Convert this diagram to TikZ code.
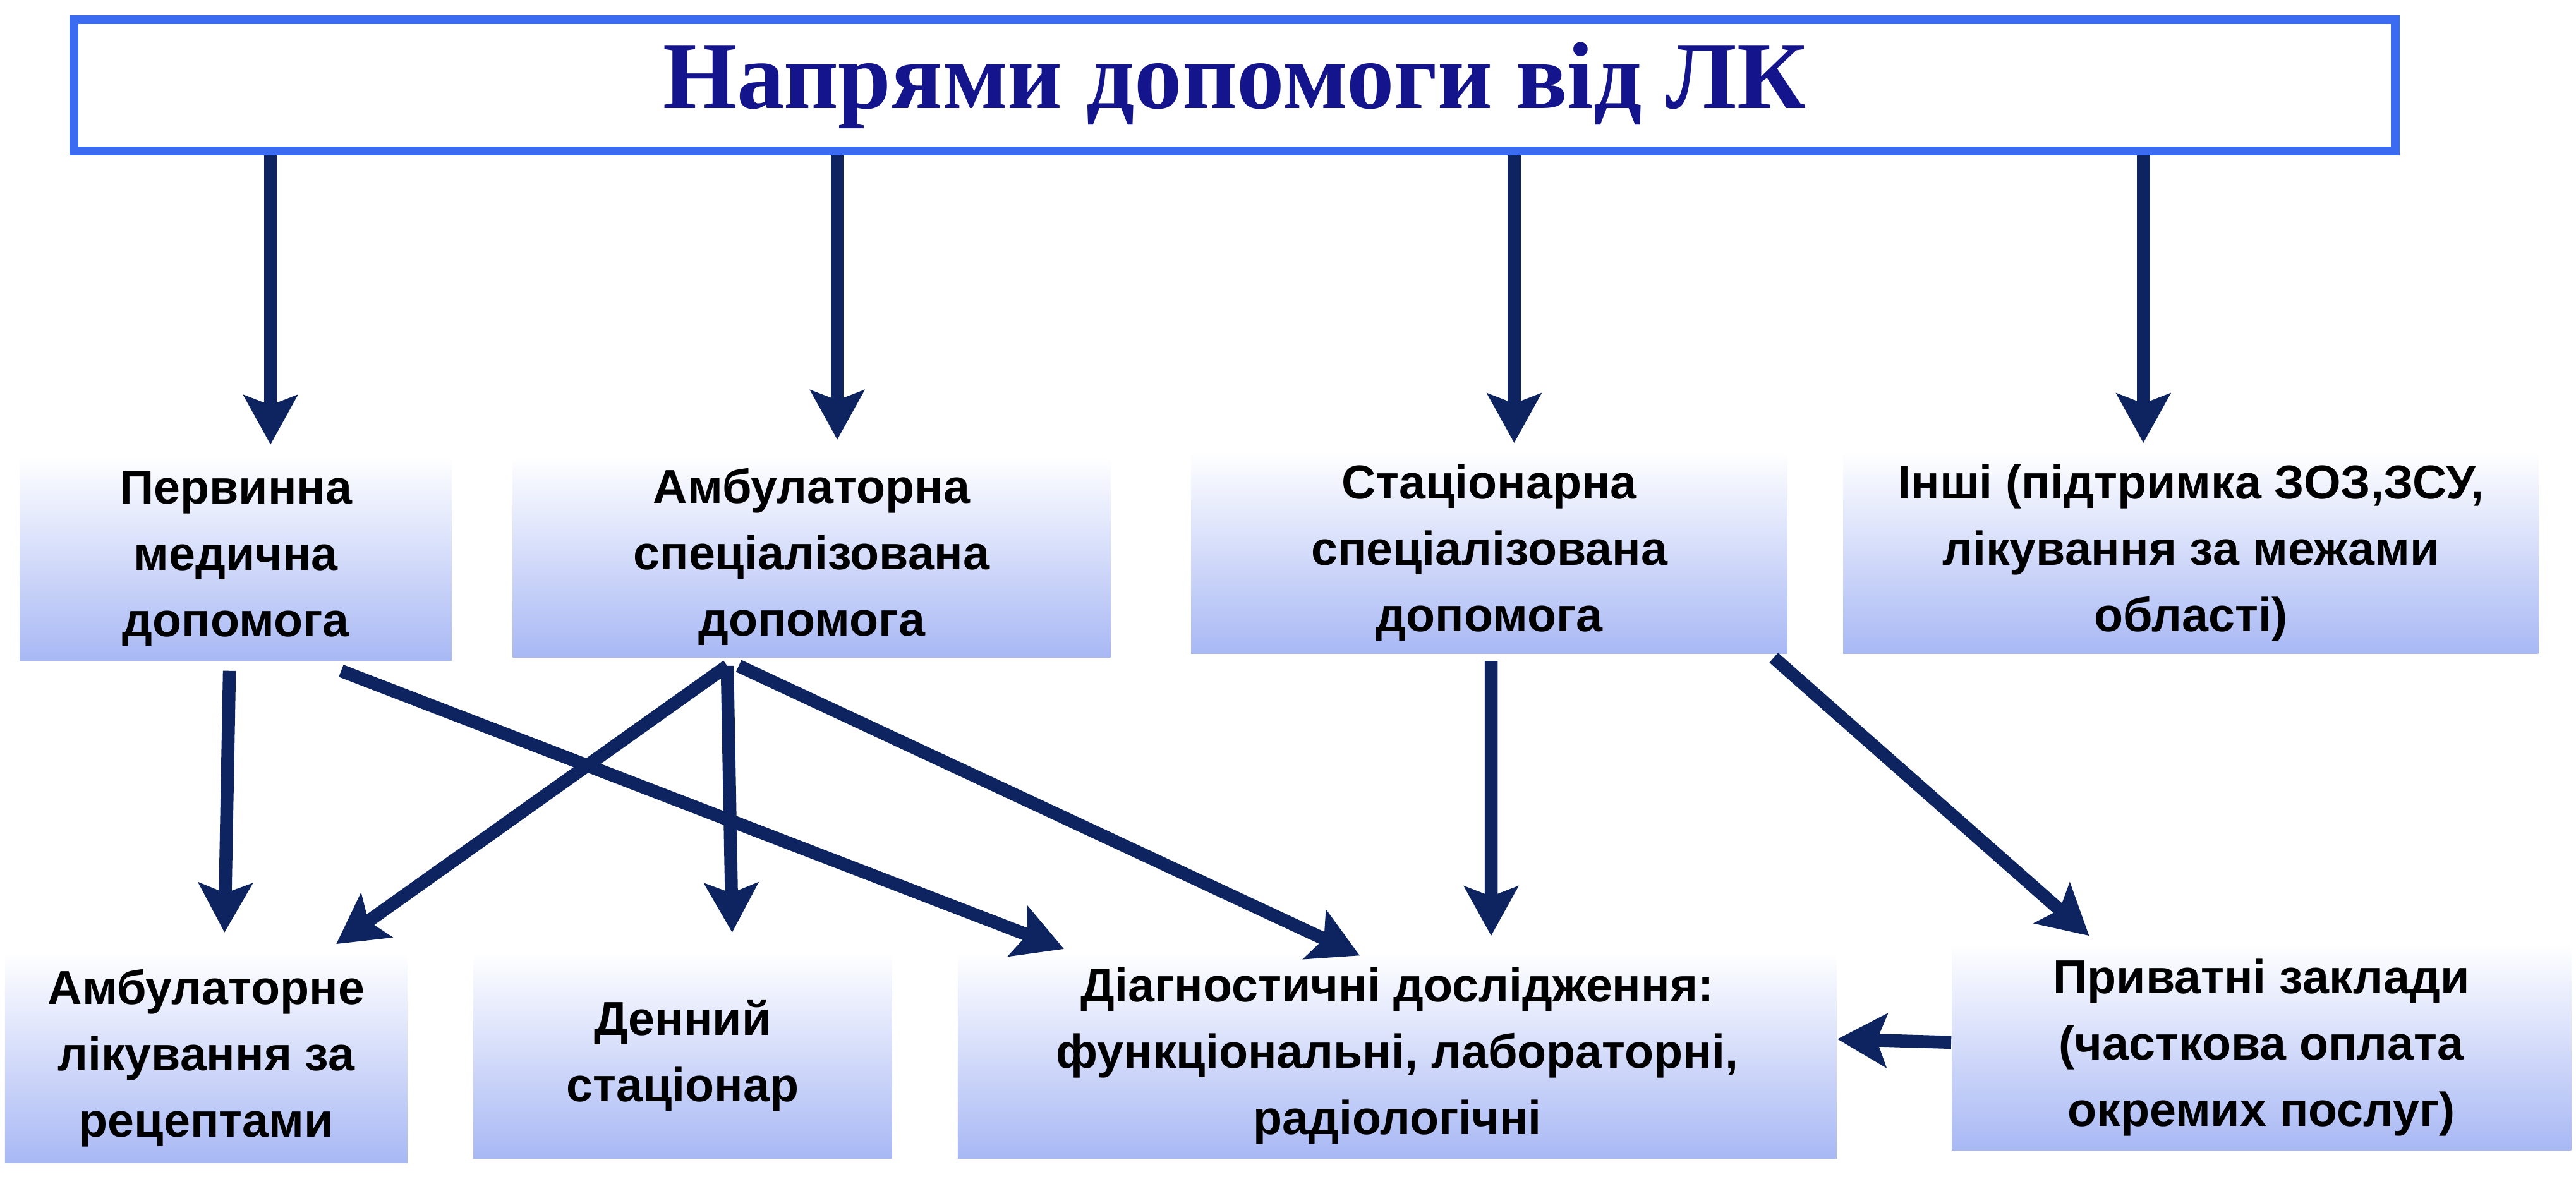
\documentclass[tikz,border=0pt]{standalone}
\usepackage{fontspec}
\setmainfont{Liberation Sans}
\newfontfamily\titlefont{Liberation Serif}
\usetikzlibrary{arrows.meta}
\definecolor{navy}{HTML}{0D2461}
\definecolor{tblue}{HTML}{14148C}
\definecolor{bord}{HTML}{3A6BF0}
\definecolor{gbot}{HTML}{A8B8F4}
\tikzset{
 box/.style={inner sep=0pt,top color=white,bottom color=gbot,align=center,
   font=\fontsize{16.5}{23}\selectfont\bfseries,text=black},
 arr/.style={draw=navy,line width=4.5pt,-{Stealth[length=0.6cm,width=0.65cm,inset=0.12cm]}}
}
\newcommand{\bx}[6]{\node[box,minimum width=#4cm-#2cm,minimum height=#3cm-#5cm] (#1) at ({(#2+#4)/2},{(#3+#5)/2}) {#6};}
\begin{document}
\begin{tikzpicture}
\useasboundingbox (0,0) rectangle (31.36,-14.41);
\node[draw=bord,line width=3pt,fill=white,minimum width=28.26cm,minimum height=1.6cm,inner sep=0pt,
  font=\titlefont\fontsize{33}{36}\selectfont\bfseries,text=tblue] (t) at (15.03,-1.04) {Напрями допомоги від ЛК};
\bx{p}{0.24}{-5.56}{5.5}{-8.04}{Первинна\\медична\\допомога}
\bx{a}{6.24}{-5.56}{13.52}{-8.0}{Амбулаторна\\спеціалізована\\допомога}
\bx{s}{14.5}{-5.5}{21.76}{-7.96}{Стаціонарна\\спеціалізована\\допомога}
\bx{i}{22.44}{-5.5}{30.9}{-7.96}{Інші (підтримка ЗОЗ,ЗСУ,\\лікування за межами\\області)}
\bx{al}{0.06}{-11.6}{4.96}{-14.16}{Амбулаторне\\лікування за\\рецептами}
\bx{d}{5.76}{-11.6}{10.86}{-14.1}{Денний\\стаціонар}
\bx{dg}{11.66}{-11.6}{22.36}{-14.1}{Діагностичні дослідження:\\функціональні, лабораторні,\\радіологічні}
\bx{pr}{23.76}{-11.5}{31.3}{-14.0}{Приватні заклади\\(часткова оплата\\окремих послуг)}
\coordinate (cp) at ([xshift=3.06cm,yshift=0.14cm]p.north west);
\coordinate (ca) at ([xshift=3.96cm,yshift=0.2cm]a.north west);
\coordinate (cs) at ([xshift=3.94cm,yshift=0.1cm]s.north west);
\coordinate (ci) at ([xshift=3.66cm,yshift=0.1cm]i.north west);
\draw[arr] (t.south -| cp) -- (cp);
\draw[arr] (t.south -| ca) -- (ca);
\draw[arr] (t.south -| cs) -- (cs);
\draw[arr] (t.south -| ci) -- (ci);
\draw[arr] ([xshift=2.56cm,yshift=-0.12cm]p.south west) -- ([xshift=2.68cm,yshift=0.24cm]al.north west);
\draw[arr] ([xshift=3.92cm,yshift=-0.12cm]p.south west) -- ([xshift=1.3cm,yshift=0.04cm]dg.north west);
\draw[arr] ([xshift=2.62cm,yshift=-0.1cm]a.south west) -- ([xshift=4.04cm,yshift=0.1cm]al.north west);
\draw[arr] ([xshift=2.62cm,yshift=-0.1cm]a.south west) -- ([xshift=3.16cm,yshift=0.24cm]d.north west);
\draw[arr] ([xshift=2.76cm,yshift=-0.1cm]a.south west) -- ([xshift=4.9cm,yshift=-0.04cm]dg.north west);
\draw[arr] ([xshift=3.66cm,yshift=-0.08cm]s.south west) -- ([xshift=6.5cm,yshift=0.2cm]dg.north west);
\draw[arr] ([xshift=7.1cm,yshift=-0.04cm]s.south west) -- ([xshift=1.68cm,yshift=0.1cm]pr.north west);
\draw[arr] ([yshift=0.06cm]pr.west) -- ([yshift=0.2cm]dg.east);
\end{tikzpicture}
\end{document}
